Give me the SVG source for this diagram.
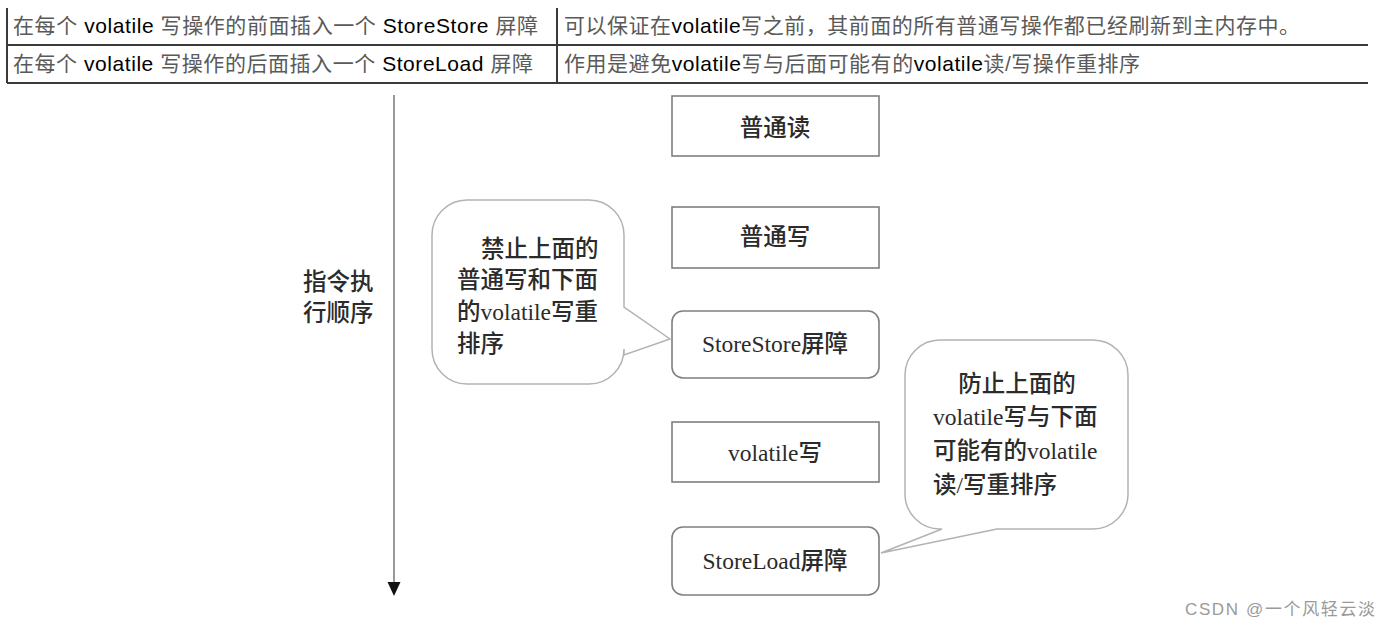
<svg xmlns="http://www.w3.org/2000/svg" width="1391" height="627" viewBox="0 0 1391 627">
<style>
.tbl{font-family:"Liberation Sans","Noto Sans CJK SC",sans-serif;font-size:21px;fill:#5a5a5a}
.lat{fill:#000}
.grid{stroke:#3a3a3a;stroke-width:2;fill:none}
.dg{font-family:"Liberation Serif","Noto Sans CJK SC",serif;font-size:23.5px;font-weight:500;fill:#2b2b2b}
.mid{text-anchor:middle}
.box{fill:#fff;stroke:#7f7f7f;stroke-width:1.6}
.bub{fill:#fff;stroke:#b3b3b3;stroke-width:1.5}
.axis{stroke:#808080;stroke-width:1.6;fill:none}
.wm{font-family:"Liberation Sans","Noto Sans CJK SC",sans-serif;font-size:17px;fill:#9a9a9a}
</style>
<defs>
<marker id="ah" markerWidth="14" markerHeight="15" refX="7" refY="0" orient="0" markerUnits="userSpaceOnUse" overflow="visible">
<polygon points="0.5,0 13.5,0 7,14" fill="#111"/>
</marker>
</defs>
<rect width="1391" height="627" fill="#fff"/>

<g id="table">
<line class="grid" x1="7" y1="8" x2="7" y2="83"/>
<line class="grid" x1="557" y1="8" x2="557" y2="83"/>
<line class="grid" x1="7" y1="45" x2="1368" y2="45"/>
<line class="grid" x1="7" y1="83" x2="1368" y2="83"/>
<text class="tbl" x="13" y="33" textLength="525">在每个 <tspan class="lat">volatile</tspan> 写操作的前面插入一个 <tspan class="lat">StoreStore</tspan> 屏障</text>
<text class="tbl" x="13" y="71" textLength="520">在每个 <tspan class="lat">volatile</tspan> 写操作的后面插入一个 <tspan class="lat">StoreLoad</tspan> 屏障</text>
<text class="tbl" x="564" y="33" textLength="736">可以保证在<tspan class="lat">volatile</tspan>写之前，其前面的所有普通写操作都已经刷新到主内存中。</text>
<text class="tbl" x="564" y="71" textLength="576">作用是避免<tspan class="lat">volatile</tspan>写与后面可能有的<tspan class="lat">volatile</tspan>读/写操作重排序</text>
</g>

<g id="connectors">
<line class="axis" x1="394" y1="95" x2="394" y2="582" marker-end="url(#ah)"/>
</g>

<g id="axis-label">
<text class="dg" x="303" y="290" font-size="23">指令执</text>
<text class="dg" x="303" y="321" font-size="23">行顺序</text>
</g>

<g id="n-read">
<rect class="box" x="672" y="96" width="207" height="60"/>
<text class="dg mid" x="775" y="136">普通读</text>
</g>
<g id="n-write">
<rect class="box" x="672" y="207" width="207" height="61"/>
<text class="dg mid" x="775" y="245">普通写</text>
</g>
<g id="n-storestore">
<rect class="box" x="672" y="311" width="207" height="67" rx="11"/>
<text class="dg mid" x="775" y="352">StoreStore屏障</text>
</g>
<g id="n-vwrite">
<rect class="box" x="672" y="422" width="207" height="60"/>
<text class="dg mid" x="775" y="461">volatile写</text>
</g>
<g id="n-storeload">
<rect class="box" x="672" y="527" width="207" height="68" rx="11"/>
<text class="dg mid" x="775" y="569">StoreLoad屏障</text>
</g>

<g id="bubble-1">
<path class="bub" d="M467,200 H589 A35,35 0 0 1 624,235 V307 L670,339 L624,355 V349 A35,35 0 0 1 589,384 H467 A35,35 0 0 1 432,349 V235 A35,35 0 0 1 467,200 Z"/>
<text class="dg" x="481" y="257">禁止上面的</text>
<text class="dg" x="457" y="288">普通写和下面</text>
<text class="dg" x="457" y="320">的volatile写重</text>
<text class="dg" x="457" y="352">排序</text>
</g>

<g id="bubble-2">
<path class="bub" d="M940,340 H1093 A35,35 0 0 1 1128,375 V494 A35,35 0 0 1 1093,529 H997 L881,553 L942,529 H940 A35,35 0 0 1 905,494 V375 A35,35 0 0 1 940,340 Z"/>
<text class="dg mid" x="1017" y="392">防止上面的</text>
<text class="dg" x="933" y="425">volatile写与下面</text>
<text class="dg" x="933" y="459">可能有的volatile</text>
<text class="dg" x="933" y="493">读/写重排序</text>
</g>

<text class="wm" x="1185" y="615" textLength="190">CSDN @一个风轻云淡</text>
</svg>
